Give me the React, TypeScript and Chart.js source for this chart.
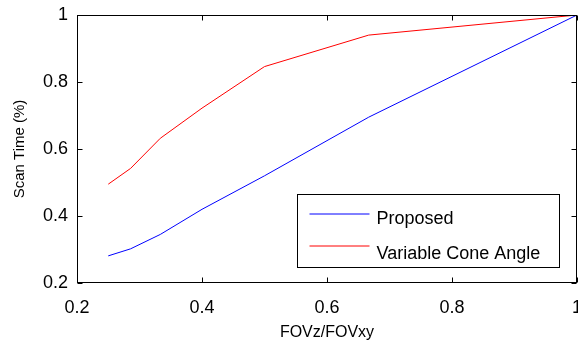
import React, { useEffect, useRef } from "react";
import { Chart, registerables } from "chart.js";

Chart.register(...registerables);

const xValues = [0.25, 0.2857, 0.3333, 0.4, 0.5, 0.6667, 1];
const proposed = [0.281, 0.302, 0.345, 0.42, 0.52, 0.695, 1.0];
const variableCone = [0.495, 0.542, 0.632, 0.722, 0.846, 0.94, 1.0];
const seriesLabels = ["Proposed", "Variable Cone Angle"];
const seriesColors = ["#0000ff", "#ff0000"];
const xTitle = "FOVz/FOVxy";
const yTitle = "Scan Time (%)";

const FONT = "'Liberation Sans', Arial, Helvetica, sans-serif";

const fmt = (v: any) => String(Math.round(Number(v) * 10) / 10);

const framePlugin = {
  id: "matlabFrame",
  afterDraw(chart: any) {
    const { ctx, chartArea: a, scales } = chart;
    ctx.save();
    ctx.strokeStyle = "#000";
    ctx.lineWidth = 1;
    const L = Math.round(a.left) + 0.5;
    const R = Math.round(a.right) - 0.5;
    const T = Math.round(a.top) + 0.5;
    const B = Math.round(a.bottom) - 0.5;
    ctx.strokeRect(L, T, R - L, B - T);
    const tl = 5;
    ctx.beginPath();
    scales.x.ticks.forEach((t: any) => {
      const px = Math.round(scales.x.getPixelForValue(t.value)) + 0.5;
      ctx.moveTo(px, B);
      ctx.lineTo(px, B - tl);
      ctx.moveTo(px, T);
      ctx.lineTo(px, T + tl);
    });
    scales.y.ticks.forEach((t: any) => {
      const py = Math.round(scales.y.getPixelForValue(t.value)) + 0.5;
      ctx.moveTo(L, py);
      ctx.lineTo(L + tl, py);
      ctx.moveTo(R, py);
      ctx.lineTo(R - tl, py);
    });
    ctx.stroke();

    // legend box inside plot area (bottom-right)
    const bw = 262;
    const bh = 73;
    const bx = Math.round(a.right) - 18 - bw + 0.5;
    const by = Math.round(a.bottom) - 16 - bh + 0.5;
    ctx.fillStyle = "#fff";
    ctx.fillRect(bx, by, bw, bh);
    ctx.strokeStyle = "#000";
    ctx.strokeRect(bx, by, bw, bh);
    const lineY = [19, 51];
    const textY = [29, 64];
    ctx.font = `18px ${FONT}`;
    ctx.textBaseline = "alphabetic";
    ctx.textAlign = "left";
    chart.data.datasets.forEach((ds: any, i: number) => {
      ctx.strokeStyle = ds.borderColor;
      ctx.beginPath();
      ctx.moveTo(bx + 12, Math.round(by + lineY[i]));
      ctx.lineTo(bx + 72, Math.round(by + lineY[i]));
      ctx.stroke();
      ctx.fillStyle = "#000";
      ctx.fillText(ds.label, bx + 79, by + textY[i]);
    });
    ctx.restore();
  },
};

export default function App() {
  const ref = useRef<HTMLCanvasElement>(null);
  useEffect(() => {
    document.body.style.margin = "0";
    document.body.style.overflow = "hidden";
    const series = [proposed, variableCone];
    const chart = new Chart(ref.current!, {
      type: "line",
      data: {
        datasets: series.map((vals, i) => ({
          label: seriesLabels[i],
          data: xValues.map((x, j) => ({ x, y: vals[j] })),
          borderColor: seriesColors[i],
          backgroundColor: seriesColors[i],
          borderWidth: 1,
          pointRadius: 0,
          tension: 0,
          fill: false,
        })),
      },
      options: {
        animation: false,
        responsive: false,
        maintainAspectRatio: false,
        layout: { padding: { left: 0, right: 13, top: 15, bottom: 0 } },
        plugins: { legend: { display: false }, tooltip: { enabled: false } },
        scales: {
          x: {
            type: "linear",
            min: 0.2,
            max: 1,
            ticks: { stepSize: 0.2, color: "#000", padding: 14, font: { size: 18, family: FONT }, callback: fmt },
            grid: { display: false, drawTicks: false },
            border: { display: false },
            title: { display: true, text: xTitle, color: "#000", font: { size: 16, family: FONT }, padding: { top: 0, bottom: 1 } },
            afterFit: (s: any) => { s.height = 60; s.paddingLeft = 0; s.paddingRight = 0; },
          },
          y: {
            type: "linear",
            min: 0.2,
            max: 1,
            ticks: { stepSize: 0.2, color: "#000", padding: 9, font: { size: 18, family: FONT }, callback: fmt },
            grid: { display: false, drawTicks: false },
            border: { display: false },
            title: { display: true, text: yTitle, color: "#000", font: { size: 15, family: FONT }, padding: { top: 11, bottom: 0 } },
            afterFit: (s: any) => { s.width = 77; s.paddingTop = 0; s.paddingBottom = 0; },
          },
        },
      },
      plugins: [framePlugin],
    });
    return () => chart.destroy();
  }, []);
  return (
    <div style={{ width: 578, height: 343, overflow: "hidden", position: "relative", background: "#fff" }}>
      <canvas ref={ref} width={590} height={343} style={{ display: "block", width: 590, height: 343 }} />
    </div>
  );
}
